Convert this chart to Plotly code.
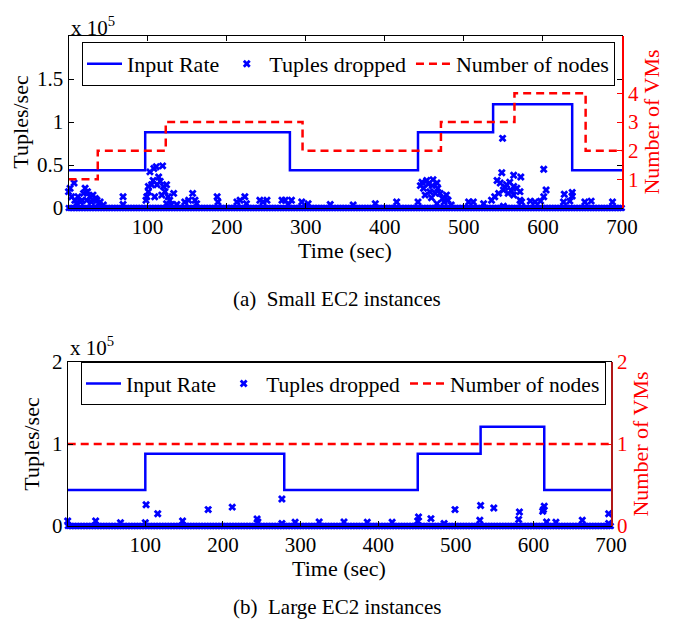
import plotly.graph_objects as go

# ---------------- (a) Small EC2 instances ----------------
rate_t_a = [0, 97, 280, 442, 537, 637, 700]
rate_v_a = [44000, 88000, 44000, 88000, 120500, 44000, 44000]
nodes_t_a = [0, 37, 123, 296, 471, 564, 654, 700]
nodes_v_a = [1, 2, 3, 2, 3, 4, 2, 2]
drop_t_a = [0, 2, 7, 4, 8, 12, 15, 19, 21, 24, 27, 31, 34, 36, 38, 40, 44, 10, 17, 23, 29, 69, 69,
            98, 101, 103, 108, 111, 119, 114, 107, 105, 101, 112, 116, 120, 124, 122, 126, 128, 133, 130, 118, 109, 99, 124,
            137, 147, 152, 157, 160, 162, 188, 189, 213, 217, 223, 225, 242, 246, 251, 270, 274, 282, 278, 295, 303, 331,
            360, 388, 415, 442, 447, 453, 461, 466, 449, 457, 467, 470, 478, 480, 475, 466, 484, 506, 445, 460, 455, 464, 451, 459, 473,
            549, 548, 542, 563, 572, 601, 604, 601, 627, 637, 637, 546, 554, 558, 563, 567, 550, 544, 539, 535, 556, 563, 571, 571,
            550, 573, 584, 590, 597, 626, 634, 653, 661, 688, 525, 512, 560, 552]
drop_v_a = [19000, 23000, 29000, 13000, 9000, 13000, 7000, 17000, 23000, 19000, 13000, 15000, 11000, 9000, 5000, 7000, 3500, 5000, 9000, 9000, 7000, 13000, 4000,
            9000, 19000, 42000, 46000, 48000, 49000, 36000, 32000, 27000, 25000, 27000, 31000, 25000, 27000, 19000, 13000, 9000, 17000, 4000, 15000, 13000, 13000, 5000,
            4000, 7000, 9000, 17000, 9000, 5000, 13000, 7000, 7000, 9000, 13000, 5000, 9000, 7000, 9000, 9000, 9000, 9000, 4000, 7000, 5000, 4000,
            3500, 5000, 7000, 7000, 30000, 32000, 33000, 29000, 23000, 19000, 23000, 17000, 15000, 9000, 7000, 5000, 3500, 7000, 26000, 26000, 28000, 17000, 15000, 12000, 11000,
            81000, 41000, 32000, 38000, 36000, 45000, 21000, 13000, 16000, 18000, 14000, 29000, 27000, 30000, 25000, 23000, 21000, 17000, 13000, 9000, 17000, 15000, 19000, 9000,
            2000, 7000, 8000, 7000, 8000, 7000, 8000, 7000, 8000, 7000, 5000, 7000, 20000, 24000]

# ---------------- (b) Large EC2 instances ----------------
rate_t_b = [0, 100, 279, 451, 532, 614, 700]
rate_v_b = [44000, 88000, 44000, 88000, 121000, 44000, 44000]
nodes_t_b = [0, 700]
nodes_v_b = [1, 1]
drop_t_b = [0, 36, 68, 101, 100, 116, 148, 181, 212, 244, 245, 276, 276, 293, 324, 356, 386, 418,
            452, 451, 468, 499, 532, 531, 549, 582, 581, 614, 613, 612, 617, 629, 663, 697, 697, 485]
drop_v_b = [6000, 6000, 4000, 26000, 4000, 15000, 6000, 20000, 23000, 8500, 5000, 33000, 3000, 4500, 5000, 5000, 4500, 4500,
            11000, 6000, 9000, 20000, 25000, 7000, 22000, 17000, 8000, 24000, 20000, 18000, 5000, 4500, 7000, 15000, 3000, 3000]

# near-zero drops recorded every 2 s (the dense band along the time axis)
base_t = list(range(0, 701, 2))
base_v = [0 for _ in base_t]

x_ticks = [100, 200, 300, 400, 500, 600, 700]
x_tick_text = ["100", "200", "300", "400", "500", "600", "700"]
ya_ticks = [0, 50000, 100000, 150000]
ya_text = ["0", "0.5", "1", "1.5"]
yb_ticks = [0, 100000, 200000]
yb_text = ["0", "1", "2"]
vm_ticks_a = [1, 2, 3, 4]
vm_ticks_b = [0, 1, 2]

FONT = "Liberation Serif, Times New Roman, Times, DejaVu Serif, serif"
BLUE = "#0000ff"
RED = "#ff0000"

fig = go.Figure()

# --- top chart traces ---
fig.add_trace(go.Scatter(x=rate_t_a, y=rate_v_a, mode="lines", line=dict(color=BLUE, width=2.5, shape="hv"),
                         name="Input Rate", xaxis="x", yaxis="y", legend="legend"))
fig.add_trace(go.Scatter(x=drop_t_a, y=drop_v_a, mode="markers",
                         marker=dict(symbol="x", size=7, color=BLUE), cliponaxis=False,
                         name="Tuples dropped", legendgroup="da", xaxis="x", yaxis="y", legend="legend"))
fig.add_trace(go.Scatter(x=base_t, y=base_v, mode="markers",
                         marker=dict(symbol="x", size=6, color=BLUE), cliponaxis=False,
                         name="Tuples dropped", legendgroup="da", showlegend=False, xaxis="x", yaxis="y", legend="legend"))
fig.add_trace(go.Scatter(x=nodes_t_a, y=nodes_v_a, mode="lines", line=dict(color=RED, width=2.5, dash="8px,5px", shape="hv"),
                         name="Number of nodes", xaxis="x", yaxis="y2", legend="legend"))

# --- bottom chart traces ---
fig.add_trace(go.Scatter(x=rate_t_b, y=rate_v_b, mode="lines", line=dict(color=BLUE, width=2.5, shape="hv"),
                         name="Input Rate", xaxis="x3", yaxis="y3", legend="legend2"))
fig.add_trace(go.Scatter(x=drop_t_b, y=drop_v_b, mode="markers",
                         marker=dict(symbol="x", size=7, color=BLUE), cliponaxis=False,
                         name="Tuples dropped", legendgroup="db", xaxis="x3", yaxis="y3", legend="legend2"))
fig.add_trace(go.Scatter(x=base_t, y=base_v, mode="markers",
                         marker=dict(symbol="x", size=6, color=BLUE), cliponaxis=False,
                         name="Tuples dropped", legendgroup="db", showlegend=False, xaxis="x3", yaxis="y3", legend="legend2"))
fig.add_trace(go.Scatter(x=nodes_t_b, y=nodes_v_b, mode="lines", line=dict(color=RED, width=2.5, dash="8px,5px", shape="hv"),
                         name="Number of nodes", xaxis="x3", yaxis="y4", legend="legend2"))

# page has an 8px body margin, so the figure is offset by 8px
OFF = 8
W, H = 675 - OFF, 629 - OFF
def fx(px):
    return (px - OFF) / W
def fy(py):
    return 1 - (py - OFF) / H

tickfont = dict(family=FONT, size=21, color="black")
common_x = dict(range=[0, 700], tickvals=x_ticks, ticktext=x_tick_text, ticks="inside", ticklen=5,
                tickcolor="black", showline=True, linecolor="black", linewidth=1, mirror="ticks",
                showgrid=False, zeroline=False, tickfont=tickfont, automargin=False)

fig.update_layout(
    width=W, height=H,
    margin=dict(l=0, r=0, t=0, b=0),
    paper_bgcolor="white", plot_bgcolor="white",
    font=dict(family=FONT, size=21, color="black"),
    showlegend=True,
    xaxis=dict(domain=[fx(68.5), fx(622)], anchor="y", **common_x),
    yaxis=dict(domain=[fy(208), fy(36)], anchor="x", range=[0, 200000], tickvals=ya_ticks, ticktext=ya_text,
               ticks="inside", ticklen=5, tickcolor="black", showline=True, linecolor="black", mirror="ticks",
               showgrid=False, zeroline=False, tickfont=tickfont, automargin=False,
               title=dict(text="Tuples/sec", font=dict(family=FONT, size=22), standoff=6)),
    yaxis2=dict(overlaying="y", anchor="x", side="right", range=[0, 6], tickvals=vm_ticks_a,
                ticks="inside", ticklen=5, tickcolor=RED, showline=True, linecolor=RED, linewidth=1.5,
                showgrid=False, zeroline=False, tickfont=dict(family=FONT, size=21, color=RED), automargin=False,
                title=dict(text="Number of VMs", font=dict(family=FONT, size=22, color=RED), standoff=6)),
    xaxis3=dict(domain=[fx(67.7), fx(611)], anchor="y3", **common_x),
    yaxis3=dict(domain=[fy(526), fy(362)], anchor="x3", range=[0, 200000], tickvals=yb_ticks, ticktext=yb_text,
                ticks="inside", ticklen=5, tickcolor="black", showline=True, linecolor="black", mirror="ticks",
                showgrid=False, zeroline=False, tickfont=tickfont, automargin=False,
                title=dict(text="Tuples/sec", font=dict(family=FONT, size=22), standoff=6)),
    yaxis4=dict(overlaying="y3", anchor="x3", side="right", range=[0, 2], tickvals=vm_ticks_b,
                ticks="inside", ticklen=5, tickcolor=RED, showline=True, linecolor="#b01818", linewidth=1.5,
                showgrid=False, zeroline=False, tickfont=dict(family=FONT, size=21, color=RED), automargin=False,
                title=dict(text="Number of VMs", font=dict(family=FONT, size=22, color=RED), standoff=6)),
    legend=dict(orientation="h", x=fx(82), y=fy(42), xanchor="left", yanchor="top",
                bgcolor="white", bordercolor="black", borderwidth=1, itemwidth=35,
                font=dict(family=FONT, size=22, color="black"), tracegroupgap=0),
    legend2=dict(orientation="h", x=fx(81), y=fy(362), xanchor="left", yanchor="top",
                 bgcolor="white", bordercolor="black", borderwidth=1, itemwidth=35,
                 font=dict(family=FONT, size=21.5, color="black"), tracegroupgap=0),
    annotations=[
        dict(text="Time (sec)", x=fx(345), y=fy(251), xref="paper", yref="paper", xanchor="center", yanchor="middle",
             showarrow=False, font=dict(family=FONT, size=22, color="black")),
        dict(text="Time (sec)", x=fx(339), y=fy(568), xref="paper", yref="paper", xanchor="center", yanchor="middle",
             showarrow=False, font=dict(family=FONT, size=22, color="black")),
        dict(text="x 10<sup>5</sup>", x=fx(69), y=fy(26), xref="paper", yref="paper", xanchor="left", yanchor="middle",
             showarrow=False, font=dict(family=FONT, size=21, color="black")),
        dict(text="x 10<sup>5</sup>", x=fx(68), y=fy(346), xref="paper", yref="paper", xanchor="left", yanchor="middle",
             showarrow=False, font=dict(family=FONT, size=21, color="black")),
        dict(text="(a)  Small EC2 instances", x=fx(337), y=fy(299), xref="paper", yref="paper", xanchor="center",
             yanchor="middle", showarrow=False, font=dict(family=FONT, size=21, color="black")),
        dict(text="(b)  Large EC2 instances", x=fx(337), y=fy(607), xref="paper", yref="paper", xanchor="center",
             yanchor="middle", showarrow=False, font=dict(family=FONT, size=21, color="black")),
    ],
)

fig.write_html("out.html")
